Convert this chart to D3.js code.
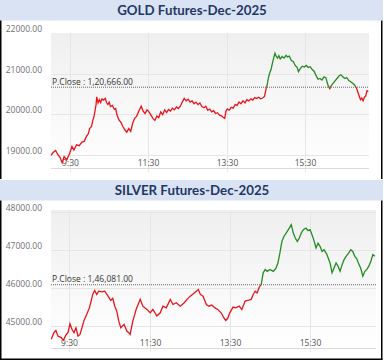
<!DOCTYPE html>
<html>
<head>
<meta charset="utf-8">
<script src="https://cdn.jsdelivr.net/npm/d3@7"></script>
<style>
  body { margin: 0; background: #fff; }
  svg { display: block; }
</style>
</head>
<body>
<svg width="385" height="362"></svg>
<script>
// gold futures: clock time and price
var goldTimes = ["9:01","9:04","9:08","9:11","9:15","9:18","9:21","9:25","9:28","9:30","9:33","9:36","9:40","9:44","9:48","9:52","9:55","9:58","10:00","10:03","10:05","10:07","10:09","10:10","10:11","10:13","10:15","10:17","10:19","10:21","10:24","10:26","10:28","10:30","10:32","10:35","10:38","10:40","10:42","10:45","10:48","10:51","10:54","10:57","11:00","11:03","11:06","11:09","11:12","11:16","11:19","11:22","11:25","11:28","11:31","11:34","11:37","11:40","11:43","11:46","11:49","11:52","11:55","11:58","12:01","12:04","12:07","12:10","12:13","12:16","12:19","12:22","12:25","12:28","12:31","12:34","12:37","12:40","12:43","12:46","12:49","12:52","12:55","12:58","13:01","13:04","13:07","13:10","13:13","13:16","13:19","13:22","13:25","13:27","13:29","13:31","13:34","13:37","13:40","13:43","13:46","13:49","13:52","13:55","13:58","14:01","14:04","14:07","14:10","14:13","14:16","14:19","14:22","14:25","14:28","14:30","14:32","14:34","14:36","14:38","14:40","14:42","14:44","14:46","14:48","14:50","14:52","14:55","14:58","15:01","15:03","15:06","15:09","15:12","15:15","15:18","15:20","15:23","15:26","15:29","15:32","15:35","15:38","15:41","15:44","15:47","15:50","15:53","15:56","15:59","16:02","16:04","16:06","16:08","16:10","16:13","16:16","16:19","16:22","16:25","16:28","16:31","16:34","16:37","16:40","16:43","16:46","16:49","16:51","16:53","16:55","16:57","16:59","17:01","17:03","17:05","17:07"];
var goldPrices = [118990,119060,119110,119020,118930,118810,118960,118880,118990,119060,119210,119120,119250,119230,119310,119340,119450,119520,119650,119700,119850,119960,120150,120250,120430,120280,120360,120290,120380,120350,120390,120290,120240,120300,120190,120220,120120,120140,119980,119860,119800,119700,119620,119560,119650,119580,119780,119900,119950,120100,120200,120080,120020,120110,120060,119980,119900,119850,119960,119920,120060,119990,120110,120040,120120,120080,120150,120110,120180,120140,120200,120300,120390,120330,120370,120300,120330,120260,120300,120240,120280,120190,120160,120200,120100,120130,120060,120090,120020,120040,119980,119960,119920,119900,120080,120130,120100,120170,120150,120240,120220,120300,120260,120330,120280,120360,120330,120380,120350,120410,120390,120420,120380,120400,120440,120600,120720,120900,121020,121100,121250,121380,121500,121420,121380,121440,121360,121420,121380,121450,121410,121430,121320,121300,121200,121150,121050,121130,121180,121160,121200,121150,121170,121100,121060,120950,120860,120880,120840,120920,120900,120780,120680,120630,120700,120760,120820,120880,120940,120970,120920,120880,120900,120830,120800,120760,120720,120640,120540,120450,120360,120400,120330,120420,120450,120580,120560];
var goldTicks = [119000, 120000, 121000, 122000];
var goldTickLabels = ["19000.00", "20000.00", "21000.00", "22000.00"];
var goldClose = 120666;

// silver futures: clock time and price
var silverTimes = ["9:03","9:07","9:10","9:13","9:18","9:21","9:25","9:28","9:31","9:34","9:37","9:40","9:43","9:46","9:49","9:52","9:56","10:00","10:02","10:05","10:08","10:11","10:14","10:19","10:23","10:28","10:32","10:35","10:38","10:41","10:44","10:47","10:52","10:56","10:59","11:01","11:05","11:10","11:16","11:20","11:26","11:31","11:35","11:41","11:46","11:50","11:55","12:01","12:05","12:10","12:16","12:22","12:26","12:31","12:35","12:40","12:43","12:46","12:50","12:55","12:59","13:03","13:08","13:12","13:17","13:21","13:24","13:27","13:30","13:35","13:39","13:44","13:48","13:53","13:57","14:02","14:05","14:08","14:11","14:14","14:17","14:20","14:23","14:26","14:30","14:35","14:39","14:42","14:45","14:48","14:51","14:56","14:59","15:02","15:05","15:08","15:11","15:14","15:17","15:20","15:24","15:27","15:30","15:33","15:36","15:39","15:42","15:45","15:48","15:51","15:55","16:00","16:03","16:06","16:09","16:12","16:15","16:18","16:21","16:24","16:28","16:31","16:34","16:37","16:40","16:43","16:46","16:49","16:52","16:55","16:58","17:01","17:04","17:07"];
var silverPrices = [144640,144815,144875,144725,144685,144615,144755,144815,145050,144905,144815,144945,144725,144770,144945,145140,145295,145470,145605,145825,145930,145825,145910,145895,145910,145780,145665,145720,145515,145385,145120,144945,145035,144860,144815,144770,145120,145430,145695,145515,145430,145340,145430,145255,145340,145515,145470,145695,145560,145605,145515,145605,145695,145780,145835,145910,145955,145825,145780,145560,145515,145545,145470,145430,145340,145210,145140,145195,145340,145490,145470,145515,145430,145650,145665,145695,145825,145910,145865,146015,146085,146395,146485,146435,146485,146435,146510,146655,146920,147225,147355,147490,147575,147665,147445,147315,147225,147315,147445,147535,147575,147510,147535,147400,147245,147050,147180,147095,146960,147005,146890,146655,146395,146525,146655,146570,146435,146610,146745,146830,146920,147005,146960,146830,146765,146625,146510,146305,146435,146485,146570,146700,146875,146830];
var silverTicks = [145000, 146000, 147000, 148000];
var silverTickLabels = ["45000.00", "46000.00", "47000.00", "48000.00"];
var silverClose = 146081;

var timeTicks = ["9:30", "11:30", "13:30", "15:30"];

var svg = d3.select("svg");

function mins(s) {
  var p = s.split(":");
  return +p[0] * 60 + +p[1];
}

// background gradient for the plot area
var defs = svg.append("defs");
var grad = defs.append("linearGradient").attr("id", "bg").attr("x1", 0).attr("y1", 0).attr("x2", 0).attr("y2", 1);
grad.append("stop").attr("offset", "0%").attr("stop-color", "#efefef");
grad.append("stop").attr("offset", "100%").attr("stop-color", "#ffffff");

function panel(cfg) {
  var g = svg.append("g");

  // title band
  g.append("rect")
    .attr("x", 0).attr("y", cfg.top)
    .attr("width", 383).attr("height", 20.5)
    .attr("fill", "#dae3f3");
  g.append("text")
    .attr("x", 192).attr("y", cfg.top + 15)
    .attr("text-anchor", "middle")
    .style("font-family", "Lato, 'Open Sans', sans-serif")
    .style("font-weight", "bold")
    .style("font-size", "13.3px")
    .attr("fill", "#1f3864")
    .text(cfg.title);

  var x = d3.scaleLinear()
    .domain([mins("9:30"), mins("15:30")])
    .range([cfg.x930, cfg.x1530]);
  var y = d3.scaleLinear()
    .domain([cfg.ticks[0], cfg.ticks[1]])
    .range([cfg.yLow, cfg.yLow - cfg.pxPer]);

  var left = cfg.left, right = cfg.right, ptop = cfg.ptop, pbot = cfg.pbot;

  g.append("rect")
    .attr("x", left).attr("y", ptop)
    .attr("width", right - left).attr("height", pbot - ptop)
    .attr("fill", "url(#bg)");

  // horizontal grid + y labels
  cfg.ticks.forEach(function(t, i) {
    if (y(t) > ptop + 1) {
      g.append("line")
        .attr("x1", left).attr("x2", right)
        .attr("y1", Math.round(y(t)) + 0.5).attr("y2", Math.round(y(t)) + 0.5)
        .attr("stroke", "#e6e6e6");
    }
    g.append("text")
      .attr("x", 42).attr("y", y(t) - 1)
      .attr("text-anchor", "end")
      .style("font-family", "'Open Sans', sans-serif")
      .style("font-size", "8.5px")
      .attr("fill", "#707070")
      .text(cfg.labels[i]);
  });

  // vertical grid + time labels
  timeTicks.forEach(function(t) {
    var xx = Math.round(x(mins(t))) + 0.5;
    g.append("line")
      .attr("x1", xx).attr("x2", xx)
      .attr("y1", ptop).attr("y2", pbot + 4)
      .attr("stroke", "#e6e6e6");
    g.append("text")
      .attr("x", xx).attr("y", pbot - 2)
      .attr("text-anchor", "middle")
      .style("font-family", "'Open Sans', sans-serif")
      .style("font-size", "8.5px")
      .attr("fill", "#555")
      .text(t);
  });

  g.append("line")
    .attr("x1", left).attr("x2", right)
    .attr("y1", pbot + 0.5).attr("y2", pbot + 0.5)
    .attr("stroke", "#dcdcdc");

  // previous close
  var yc = y(cfg.close);
  g.append("line")
    .attr("x1", left).attr("x2", right)
    .attr("y1", yc).attr("y2", yc)
    .attr("stroke", "#666")
    .attr("stroke-dasharray", "1,1");
  g.append("text")
    .attr("x", left + 1).attr("y", yc - 2.5)
    .style("font-family", "'Open Sans', sans-serif")
    .style("font-size", "8.5px")
    .attr("fill", "#333")
    .text(cfg.closeLabel);

  var data = cfg.times.map(function(t, i) { return { t: mins(t), v: cfg.prices[i] }; });
  var line = d3.line()
    .x(function(d) { return x(d.t); })
    .y(function(d) { return y(d.v); });

  var idUp = cfg.id + "up", idDn = cfg.id + "dn";
  defs.append("clipPath").attr("id", idUp)
    .append("rect").attr("x", 0).attr("y", ptop - 10).attr("width", 385).attr("height", yc - ptop + 10);
  defs.append("clipPath").attr("id", idDn)
    .append("rect").attr("x", 0).attr("y", yc).attr("width", 385).attr("height", pbot - yc + 10);

  g.append("path").datum(data)
    .attr("d", line)
    .attr("fill", "none")
    .attr("stroke", "#228b22")
    .attr("stroke-width", 1.3)
    .attr("clip-path", "url(#" + idUp + ")");
  g.append("path").datum(data)
    .attr("d", line)
    .attr("fill", "none")
    .attr("stroke", "#e8141a")
    .attr("stroke-width", 1.3)
    .attr("clip-path", "url(#" + idDn + ")");

  // frame of the pasted screenshot
  g.append("line").attr("x1", 0.75).attr("x2", 0.75)
    .attr("y1", cfg.top + 20.5).attr("y2", cfg.frameBottom)
    .attr("stroke", "#000").attr("stroke-width", 1.5);
  g.append("line").attr("x1", 381.75).attr("x2", 381.75)
    .attr("y1", cfg.top + 20.5).attr("y2", cfg.frameBottom)
    .attr("stroke", "#000").attr("stroke-width", 1.5);
  if (cfg.bottomLine) {
    g.append("line").attr("x1", 0).attr("x2", 382.5)
      .attr("y1", cfg.frameBottom - 0.75).attr("y2", cfg.frameBottom - 0.75)
      .attr("stroke", "#000").attr("stroke-width", 1.5);
  }
}

panel({
  id: "gold", title: "GOLD Futures-Dec-2025", top: 0,
  times: goldTimes, prices: goldPrices, ticks: goldTicks, labels: goldTickLabels,
  close: goldClose, closeLabel: "P.Close : 1,20,666.00",
  x930: 70, x1530: 305, yLow: 155, pxPer: 40.7,
  left: 51, right: 369, ptop: 33, pbot: 168, frameBottom: 179, bottomLine: false
});

panel({
  id: "silver", title: "SILVER Futures-Dec-2025", top: 180,
  times: silverTimes, prices: silverPrices, ticks: silverTicks, labels: silverTickLabels,
  close: silverClose, closeLabel: "P.Close : 1,46,081.00",
  x930: 69.3, x1530: 310, yLow: 325.7, pxPer: 37.9,
  left: 51, right: 376, ptop: 210, pbot: 348, frameBottom: 360, bottomLine: true
});
</script>
</body>
</html>
